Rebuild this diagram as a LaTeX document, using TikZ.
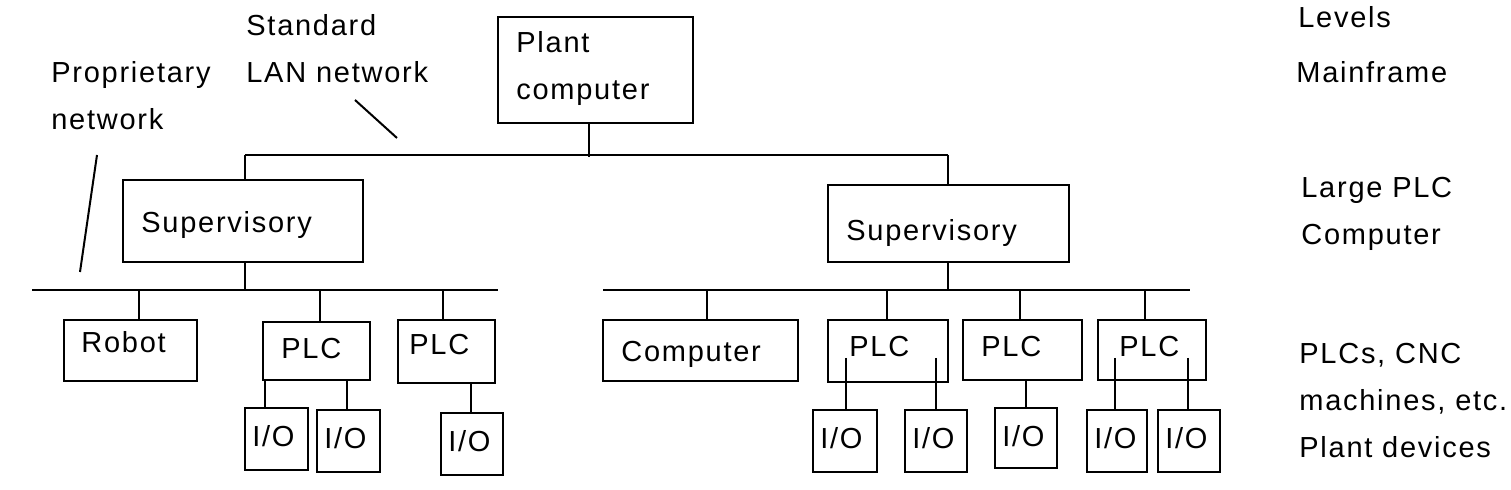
\documentclass[tikz,border=0pt]{standalone}
\usepackage{fontspec}
\setmainfont[LetterSpace=6]{Liberation Sans}
\begin{document}
\begin{tikzpicture}[x=0.5pt,y=-0.5pt,line width=1.4pt,
  bx/.style={draw},
  lb/.style={anchor=north west,inner sep=0pt,font=\fontsize{14.5}{23.5}\selectfont,align=left}]
\useasboundingbox (0,0) rectangle (1511,490);
% boxes
\draw (498,17) rectangle (693,123); \node[lb] (pc) at (515,30) {Plant\\computer};
\draw (123,180) rectangle (363,262); \node[lb] (s1) at (140,210) {Supervisory};
\draw (828,185) rectangle (1069,262); \node[lb] (s2) at (845,218) {Supervisory};
\draw (64,320) rectangle (197,381); \node[lb] (rb) at (80,330) {Robot};
\draw (263,322) rectangle (370,380); \node[lb] (p1) at (280,337) {PLC};
\draw (398,320) rectangle (495,383); \node[lb] (p2) at (408,333) {PLC};
\draw (603,320) rectangle (798,381); \node[lb] (cp) at (620,340) {Computer};
\draw (828,320) rectangle (948,382); \node[lb] (p3) at (848,335) {PLC};
\draw (963,320) rectangle (1082,380); \node[lb] (p4) at (980,335) {PLC};
\draw (1098,320) rectangle (1206,380); \node[lb] (p5) at (1118,335) {PLC};
\foreach \a/\b/\c/\d in {245/408/308/470,317/410/380/472,441/413/503/475,813/410/877/472,905/410/967/472,995/408/1057/468,1087/410/1147/472,1158/410/1220/472}{
  \draw (\a,\b) rectangle (\c,\d);
  \node[lb] at (\a+6,\b+16) {I/O};}
% buses
\draw (589,123) -- (589,157);
\draw (245,155) -- (948,155);
\draw (245,155) -- (245,180); \draw (948,155) -- (948,185);
\draw (245,262) -- (245,290); \draw (948,262) -- (948,290);
\draw (32,290) -- (498,290);
\draw (603,290) -- (1190,290);
\foreach \x/\y in {139/320,320/322,443/320,707/320,887/320,1020/320,1145/320}
  \draw (\x,290) -- (\x,\y);
\draw (265,380) -- (265,408); \draw (347,380) -- (347,410); \draw (471,383) -- (471,413);
\draw (846,358) -- (846,410); \draw (936,358) -- (936,410);
\draw (1026,380) -- (1026,408);
\draw (1115,358) -- (1115,410); \draw (1188,358) -- (1188,410);
% labels
\node[lb] (pn) at (50,60) {Proprietary\\network};
\draw[line width=1pt] (97,155) -- (80,272);
\node[lb] (ln) at (245,13) {Standard\\LAN network};
\draw[line width=1pt] (355,100) -- (397,138);
\node[lb] at (1297,5) {Levels};
\node[lb] at (1295,60) {Mainframe};
\node[lb] at (1300,176) {Large PLC\\Computer};
\node[lb] at (1298,342) {PLCs, CNC\\machines, etc.};
\node[lb] at (1298,435) {Plant devices};
\end{tikzpicture}
\end{document}
